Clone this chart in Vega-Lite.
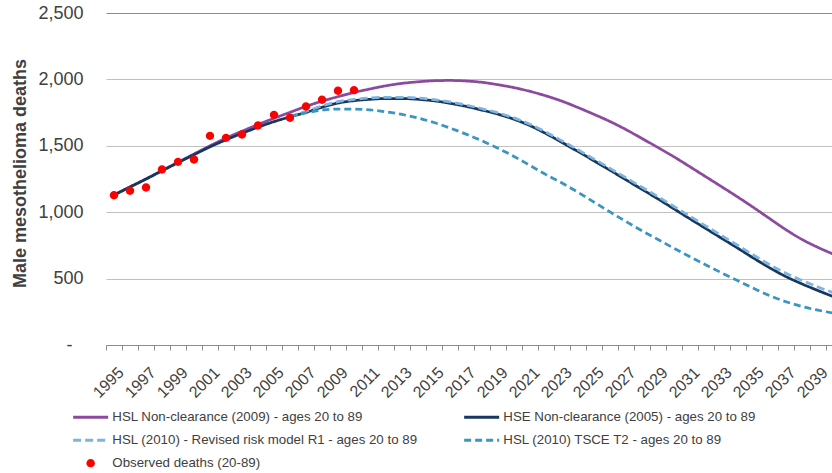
{
 "$schema": "https://vega.github.io/schema/vega-lite/v6.json",
 "width": 726,
 "height": 332,
 "autosize": {"type": "none"},
 "padding": {"left": 106, "top": 13, "right": 0, "bottom": 128},
 "config": {"view": {"stroke": null}, "font": "Liberation Sans"},
 "data": {"values": [
  {"series":"HSL Non-clearance (2009) - ages 20 to 89","year":1995,"deaths":1130},
  {"series":"HSL Non-clearance (2009) - ages 20 to 89","year":1996,"deaths":1190},
  {"series":"HSL Non-clearance (2009) - ages 20 to 89","year":1997,"deaths":1250},
  {"series":"HSL Non-clearance (2009) - ages 20 to 89","year":1998,"deaths":1313},
  {"series":"HSL Non-clearance (2009) - ages 20 to 89","year":1999,"deaths":1376},
  {"series":"HSL Non-clearance (2009) - ages 20 to 89","year":2000,"deaths":1438},
  {"series":"HSL Non-clearance (2009) - ages 20 to 89","year":2001,"deaths":1500},
  {"series":"HSL Non-clearance (2009) - ages 20 to 89","year":2002,"deaths":1558},
  {"series":"HSL Non-clearance (2009) - ages 20 to 89","year":2003,"deaths":1610},
  {"series":"HSL Non-clearance (2009) - ages 20 to 89","year":2004,"deaths":1660},
  {"series":"HSL Non-clearance (2009) - ages 20 to 89","year":2005,"deaths":1707},
  {"series":"HSL Non-clearance (2009) - ages 20 to 89","year":2006,"deaths":1752},
  {"series":"HSL Non-clearance (2009) - ages 20 to 89","year":2007,"deaths":1797},
  {"series":"HSL Non-clearance (2009) - ages 20 to 89","year":2008,"deaths":1836},
  {"series":"HSL Non-clearance (2009) - ages 20 to 89","year":2009,"deaths":1870},
  {"series":"HSL Non-clearance (2009) - ages 20 to 89","year":2010,"deaths":1902},
  {"series":"HSL Non-clearance (2009) - ages 20 to 89","year":2011,"deaths":1928},
  {"series":"HSL Non-clearance (2009) - ages 20 to 89","year":2012,"deaths":1952},
  {"series":"HSL Non-clearance (2009) - ages 20 to 89","year":2013,"deaths":1970},
  {"series":"HSL Non-clearance (2009) - ages 20 to 89","year":2014,"deaths":1982},
  {"series":"HSL Non-clearance (2009) - ages 20 to 89","year":2015,"deaths":1990},
  {"series":"HSL Non-clearance (2009) - ages 20 to 89","year":2016,"deaths":1992},
  {"series":"HSL Non-clearance (2009) - ages 20 to 89","year":2017,"deaths":1988},
  {"series":"HSL Non-clearance (2009) - ages 20 to 89","year":2018,"deaths":1978},
  {"series":"HSL Non-clearance (2009) - ages 20 to 89","year":2019,"deaths":1960},
  {"series":"HSL Non-clearance (2009) - ages 20 to 89","year":2020,"deaths":1938},
  {"series":"HSL Non-clearance (2009) - ages 20 to 89","year":2021,"deaths":1910},
  {"series":"HSL Non-clearance (2009) - ages 20 to 89","year":2022,"deaths":1876},
  {"series":"HSL Non-clearance (2009) - ages 20 to 89","year":2023,"deaths":1836},
  {"series":"HSL Non-clearance (2009) - ages 20 to 89","year":2024,"deaths":1788},
  {"series":"HSL Non-clearance (2009) - ages 20 to 89","year":2025,"deaths":1737},
  {"series":"HSL Non-clearance (2009) - ages 20 to 89","year":2026,"deaths":1683},
  {"series":"HSL Non-clearance (2009) - ages 20 to 89","year":2027,"deaths":1622},
  {"series":"HSL Non-clearance (2009) - ages 20 to 89","year":2028,"deaths":1555},
  {"series":"HSL Non-clearance (2009) - ages 20 to 89","year":2029,"deaths":1487},
  {"series":"HSL Non-clearance (2009) - ages 20 to 89","year":2030,"deaths":1417},
  {"series":"HSL Non-clearance (2009) - ages 20 to 89","year":2031,"deaths":1342},
  {"series":"HSL Non-clearance (2009) - ages 20 to 89","year":2032,"deaths":1266},
  {"series":"HSL Non-clearance (2009) - ages 20 to 89","year":2033,"deaths":1190},
  {"series":"HSL Non-clearance (2009) - ages 20 to 89","year":2034,"deaths":1113},
  {"series":"HSL Non-clearance (2009) - ages 20 to 89","year":2035,"deaths":1033},
  {"series":"HSL Non-clearance (2009) - ages 20 to 89","year":2036,"deaths":950},
  {"series":"HSL Non-clearance (2009) - ages 20 to 89","year":2037,"deaths":868},
  {"series":"HSL Non-clearance (2009) - ages 20 to 89","year":2038,"deaths":795},
  {"series":"HSL Non-clearance (2009) - ages 20 to 89","year":2039,"deaths":735},
  {"series":"HSL Non-clearance (2009) - ages 20 to 89","year":2040,"deaths":682},
  {"series":"HSE Non-clearance (2005) - ages 20 to 89","year":1995,"deaths":1130},
  {"series":"HSE Non-clearance (2005) - ages 20 to 89","year":1996,"deaths":1190},
  {"series":"HSE Non-clearance (2005) - ages 20 to 89","year":1997,"deaths":1250},
  {"series":"HSE Non-clearance (2005) - ages 20 to 89","year":1998,"deaths":1312},
  {"series":"HSE Non-clearance (2005) - ages 20 to 89","year":1999,"deaths":1373},
  {"series":"HSE Non-clearance (2005) - ages 20 to 89","year":2000,"deaths":1433},
  {"series":"HSE Non-clearance (2005) - ages 20 to 89","year":2001,"deaths":1492},
  {"series":"HSE Non-clearance (2005) - ages 20 to 89","year":2002,"deaths":1545},
  {"series":"HSE Non-clearance (2005) - ages 20 to 89","year":2003,"deaths":1594},
  {"series":"HSE Non-clearance (2005) - ages 20 to 89","year":2004,"deaths":1640},
  {"series":"HSE Non-clearance (2005) - ages 20 to 89","year":2005,"deaths":1682},
  {"series":"HSE Non-clearance (2005) - ages 20 to 89","year":2006,"deaths":1718},
  {"series":"HSE Non-clearance (2005) - ages 20 to 89","year":2007,"deaths":1752},
  {"series":"HSE Non-clearance (2005) - ages 20 to 89","year":2008,"deaths":1790},
  {"series":"HSE Non-clearance (2005) - ages 20 to 89","year":2009,"deaths":1822},
  {"series":"HSE Non-clearance (2005) - ages 20 to 89","year":2010,"deaths":1840},
  {"series":"HSE Non-clearance (2005) - ages 20 to 89","year":2011,"deaths":1850},
  {"series":"HSE Non-clearance (2005) - ages 20 to 89","year":2012,"deaths":1856},
  {"series":"HSE Non-clearance (2005) - ages 20 to 89","year":2013,"deaths":1856},
  {"series":"HSE Non-clearance (2005) - ages 20 to 89","year":2014,"deaths":1850},
  {"series":"HSE Non-clearance (2005) - ages 20 to 89","year":2015,"deaths":1839},
  {"series":"HSE Non-clearance (2005) - ages 20 to 89","year":2016,"deaths":1820},
  {"series":"HSE Non-clearance (2005) - ages 20 to 89","year":2017,"deaths":1797},
  {"series":"HSE Non-clearance (2005) - ages 20 to 89","year":2018,"deaths":1769},
  {"series":"HSE Non-clearance (2005) - ages 20 to 89","year":2019,"deaths":1738},
  {"series":"HSE Non-clearance (2005) - ages 20 to 89","year":2020,"deaths":1700},
  {"series":"HSE Non-clearance (2005) - ages 20 to 89","year":2021,"deaths":1652},
  {"series":"HSE Non-clearance (2005) - ages 20 to 89","year":2022,"deaths":1592},
  {"series":"HSE Non-clearance (2005) - ages 20 to 89","year":2023,"deaths":1525},
  {"series":"HSE Non-clearance (2005) - ages 20 to 89","year":2024,"deaths":1457},
  {"series":"HSE Non-clearance (2005) - ages 20 to 89","year":2025,"deaths":1387},
  {"series":"HSE Non-clearance (2005) - ages 20 to 89","year":2026,"deaths":1316},
  {"series":"HSE Non-clearance (2005) - ages 20 to 89","year":2027,"deaths":1244},
  {"series":"HSE Non-clearance (2005) - ages 20 to 89","year":2028,"deaths":1172},
  {"series":"HSE Non-clearance (2005) - ages 20 to 89","year":2029,"deaths":1100},
  {"series":"HSE Non-clearance (2005) - ages 20 to 89","year":2030,"deaths":1025},
  {"series":"HSE Non-clearance (2005) - ages 20 to 89","year":2031,"deaths":950},
  {"series":"HSE Non-clearance (2005) - ages 20 to 89","year":2032,"deaths":876},
  {"series":"HSE Non-clearance (2005) - ages 20 to 89","year":2033,"deaths":802},
  {"series":"HSE Non-clearance (2005) - ages 20 to 89","year":2034,"deaths":728},
  {"series":"HSE Non-clearance (2005) - ages 20 to 89","year":2035,"deaths":652},
  {"series":"HSE Non-clearance (2005) - ages 20 to 89","year":2036,"deaths":580},
  {"series":"HSE Non-clearance (2005) - ages 20 to 89","year":2037,"deaths":515},
  {"series":"HSE Non-clearance (2005) - ages 20 to 89","year":2038,"deaths":460},
  {"series":"HSE Non-clearance (2005) - ages 20 to 89","year":2039,"deaths":410},
  {"series":"HSE Non-clearance (2005) - ages 20 to 89","year":2040,"deaths":362},
  {"series":"HSL (2010) - Revised risk model R1 - ages 20 to 89","year":2006,"deaths":1720},
  {"series":"HSL (2010) - Revised risk model R1 - ages 20 to 89","year":2007,"deaths":1760},
  {"series":"HSL (2010) - Revised risk model R1 - ages 20 to 89","year":2008,"deaths":1800},
  {"series":"HSL (2010) - Revised risk model R1 - ages 20 to 89","year":2009,"deaths":1832},
  {"series":"HSL (2010) - Revised risk model R1 - ages 20 to 89","year":2010,"deaths":1850},
  {"series":"HSL (2010) - Revised risk model R1 - ages 20 to 89","year":2011,"deaths":1860},
  {"series":"HSL (2010) - Revised risk model R1 - ages 20 to 89","year":2012,"deaths":1865},
  {"series":"HSL (2010) - Revised risk model R1 - ages 20 to 89","year":2013,"deaths":1865},
  {"series":"HSL (2010) - Revised risk model R1 - ages 20 to 89","year":2014,"deaths":1860},
  {"series":"HSL (2010) - Revised risk model R1 - ages 20 to 89","year":2015,"deaths":1848},
  {"series":"HSL (2010) - Revised risk model R1 - ages 20 to 89","year":2016,"deaths":1830},
  {"series":"HSL (2010) - Revised risk model R1 - ages 20 to 89","year":2017,"deaths":1807},
  {"series":"HSL (2010) - Revised risk model R1 - ages 20 to 89","year":2018,"deaths":1779},
  {"series":"HSL (2010) - Revised risk model R1 - ages 20 to 89","year":2019,"deaths":1748},
  {"series":"HSL (2010) - Revised risk model R1 - ages 20 to 89","year":2020,"deaths":1710},
  {"series":"HSL (2010) - Revised risk model R1 - ages 20 to 89","year":2021,"deaths":1662},
  {"series":"HSL (2010) - Revised risk model R1 - ages 20 to 89","year":2022,"deaths":1603},
  {"series":"HSL (2010) - Revised risk model R1 - ages 20 to 89","year":2023,"deaths":1537},
  {"series":"HSL (2010) - Revised risk model R1 - ages 20 to 89","year":2024,"deaths":1470},
  {"series":"HSL (2010) - Revised risk model R1 - ages 20 to 89","year":2025,"deaths":1400},
  {"series":"HSL (2010) - Revised risk model R1 - ages 20 to 89","year":2026,"deaths":1330},
  {"series":"HSL (2010) - Revised risk model R1 - ages 20 to 89","year":2027,"deaths":1259},
  {"series":"HSL (2010) - Revised risk model R1 - ages 20 to 89","year":2028,"deaths":1188},
  {"series":"HSL (2010) - Revised risk model R1 - ages 20 to 89","year":2029,"deaths":1117},
  {"series":"HSL (2010) - Revised risk model R1 - ages 20 to 89","year":2030,"deaths":1043},
  {"series":"HSL (2010) - Revised risk model R1 - ages 20 to 89","year":2031,"deaths":969},
  {"series":"HSL (2010) - Revised risk model R1 - ages 20 to 89","year":2032,"deaths":895},
  {"series":"HSL (2010) - Revised risk model R1 - ages 20 to 89","year":2033,"deaths":822},
  {"series":"HSL (2010) - Revised risk model R1 - ages 20 to 89","year":2034,"deaths":749},
  {"series":"HSL (2010) - Revised risk model R1 - ages 20 to 89","year":2035,"deaths":675},
  {"series":"HSL (2010) - Revised risk model R1 - ages 20 to 89","year":2036,"deaths":604},
  {"series":"HSL (2010) - Revised risk model R1 - ages 20 to 89","year":2037,"deaths":540},
  {"series":"HSL (2010) - Revised risk model R1 - ages 20 to 89","year":2038,"deaths":486},
  {"series":"HSL (2010) - Revised risk model R1 - ages 20 to 89","year":2039,"deaths":437},
  {"series":"HSL (2010) - Revised risk model R1 - ages 20 to 89","year":2040,"deaths":392},
  {"series":"HSL (2010) TSCE T2 - ages 20 to 89","year":2006,"deaths":1720},
  {"series":"HSL (2010) TSCE T2 - ages 20 to 89","year":2007,"deaths":1748},
  {"series":"HSL (2010) TSCE T2 - ages 20 to 89","year":2008,"deaths":1768},
  {"series":"HSL (2010) TSCE T2 - ages 20 to 89","year":2009,"deaths":1777},
  {"series":"HSL (2010) TSCE T2 - ages 20 to 89","year":2010,"deaths":1777},
  {"series":"HSL (2010) TSCE T2 - ages 20 to 89","year":2011,"deaths":1770},
  {"series":"HSL (2010) TSCE T2 - ages 20 to 89","year":2012,"deaths":1756},
  {"series":"HSL (2010) TSCE T2 - ages 20 to 89","year":2013,"deaths":1736},
  {"series":"HSL (2010) TSCE T2 - ages 20 to 89","year":2014,"deaths":1709},
  {"series":"HSL (2010) TSCE T2 - ages 20 to 89","year":2015,"deaths":1675},
  {"series":"HSL (2010) TSCE T2 - ages 20 to 89","year":2016,"deaths":1634},
  {"series":"HSL (2010) TSCE T2 - ages 20 to 89","year":2017,"deaths":1588},
  {"series":"HSL (2010) TSCE T2 - ages 20 to 89","year":2018,"deaths":1538},
  {"series":"HSL (2010) TSCE T2 - ages 20 to 89","year":2019,"deaths":1481},
  {"series":"HSL (2010) TSCE T2 - ages 20 to 89","year":2020,"deaths":1420},
  {"series":"HSL (2010) TSCE T2 - ages 20 to 89","year":2021,"deaths":1352},
  {"series":"HSL (2010) TSCE T2 - ages 20 to 89","year":2022,"deaths":1283},
  {"series":"HSL (2010) TSCE T2 - ages 20 to 89","year":2023,"deaths":1220},
  {"series":"HSL (2010) TSCE T2 - ages 20 to 89","year":2024,"deaths":1150},
  {"series":"HSL (2010) TSCE T2 - ages 20 to 89","year":2025,"deaths":1076},
  {"series":"HSL (2010) TSCE T2 - ages 20 to 89","year":2026,"deaths":1002},
  {"series":"HSL (2010) TSCE T2 - ages 20 to 89","year":2027,"deaths":930},
  {"series":"HSL (2010) TSCE T2 - ages 20 to 89","year":2028,"deaths":860},
  {"series":"HSL (2010) TSCE T2 - ages 20 to 89","year":2029,"deaths":795},
  {"series":"HSL (2010) TSCE T2 - ages 20 to 89","year":2030,"deaths":728},
  {"series":"HSL (2010) TSCE T2 - ages 20 to 89","year":2031,"deaths":665},
  {"series":"HSL (2010) TSCE T2 - ages 20 to 89","year":2032,"deaths":602},
  {"series":"HSL (2010) TSCE T2 - ages 20 to 89","year":2033,"deaths":542},
  {"series":"HSL (2010) TSCE T2 - ages 20 to 89","year":2034,"deaths":484},
  {"series":"HSL (2010) TSCE T2 - ages 20 to 89","year":2035,"deaths":425},
  {"series":"HSL (2010) TSCE T2 - ages 20 to 89","year":2036,"deaths":370},
  {"series":"HSL (2010) TSCE T2 - ages 20 to 89","year":2037,"deaths":326},
  {"series":"HSL (2010) TSCE T2 - ages 20 to 89","year":2038,"deaths":290},
  {"series":"HSL (2010) TSCE T2 - ages 20 to 89","year":2039,"deaths":262},
  {"series":"HSL (2010) TSCE T2 - ages 20 to 89","year":2040,"deaths":240},
  {"series":"Observed deaths (20-89)","year":1995,"deaths":1128},
  {"series":"Observed deaths (20-89)","year":1996,"deaths":1161},
  {"series":"Observed deaths (20-89)","year":1997,"deaths":1186},
  {"series":"Observed deaths (20-89)","year":1998,"deaths":1321},
  {"series":"Observed deaths (20-89)","year":1999,"deaths":1379},
  {"series":"Observed deaths (20-89)","year":2000,"deaths":1397},
  {"series":"Observed deaths (20-89)","year":2001,"deaths":1575},
  {"series":"Observed deaths (20-89)","year":2002,"deaths":1560},
  {"series":"Observed deaths (20-89)","year":2003,"deaths":1585},
  {"series":"Observed deaths (20-89)","year":2004,"deaths":1653},
  {"series":"Observed deaths (20-89)","year":2005,"deaths":1733},
  {"series":"Observed deaths (20-89)","year":2006,"deaths":1711},
  {"series":"Observed deaths (20-89)","year":2007,"deaths":1796},
  {"series":"Observed deaths (20-89)","year":2008,"deaths":1847},
  {"series":"Observed deaths (20-89)","year":2009,"deaths":1914},
  {"series":"Observed deaths (20-89)","year":2010,"deaths":1919}
 ]},
 "encoding": {
  "x": {
   "field": "year", "type": "quantitative",
   "scale": {"domain": [1994.5, 2039.875], "nice": false, "zero": false},
   "axis": {
    "title": null,
    "values": [1994.5,1995.5,1996.5,1997.5,1998.5,1999.5,2000.5,2001.5,2002.5,2003.5,2004.5,2005.5,2006.5,2007.5,2008.5,2009.5,2010.5,2011.5,2012.5,2013.5,2014.5,2015.5,2016.5,2017.5,2018.5,2019.5,2020.5,2021.5,2022.5,2023.5,2024.5,2025.5,2026.5,2027.5,2028.5,2029.5,2030.5,2031.5,2032.5,2033.5,2034.5,2035.5,2036.5,2037.5,2038.5,2039.5],
    "labelExpr": "(datum.value + 0.5) % 2 == 1 ? '' + (datum.value + 0.5) : ''",
    "labelOffset": 9,
    "labelAngle": -45,
    "labelFontSize": 16,
    "labelColor": "#404040",
    "labelOverlap": false,
    "labelFlush": false,
    "labelBound": false,
    "labelPadding": 14,
    "tickSize": 5,
    "tickColor": "#8c8c8c",
    "domainColor": "#8c8c8c",
    "grid": false
   }
  },
  "y": {
   "field": "deaths", "type": "quantitative",
   "scale": {"domain": [0, 2500], "nice": false},
   "axis": {
    "title": "Male mesothelioma deaths",
    "values": [0, 500, 1000, 1500, 2000, 2500],
    "labelExpr": "datum.value == 0 ? '-' : format(datum.value, ',')",
    "labelFontSize": 18,
    "labelColor": "#404040",
    "labelPadding": {"condition": {"test": "datum.value === 0", "value": 34}, "value": 23},
    "ticks": false,
    "domain": false,
    "grid": true,
    "gridColor": {"condition": {"test": "datum.value === 2500", "value": "#8c8c8c"}, "value": "#c0c0c0"},
    "titleFontSize": 18,
    "titleFontWeight": "bold",
    "titleColor": "#404040",
    "titleAngle": -90,
    "titleX": -81,
    "titleY": 160,
    "titleBaseline": "alphabetic"
   }
  }
 },
 "layer": [
  {
   "transform": [{"filter": "datum.series !== 'Observed deaths (20-89)'"}],
   "mark": {"type": "line", "strokeWidth": 2.75, "interpolate": "monotone", "clip": true},
   "encoding": {
    "color": {
     "field": "series", "type": "nominal",
     "scale": {
      "domain": ["HSL Non-clearance (2009) - ages 20 to 89","HSL (2010) - Revised risk model R1 - ages 20 to 89","Observed deaths (20-89)","HSE Non-clearance (2005) - ages 20 to 89","HSL (2010) TSCE T2 - ages 20 to 89"],
      "range": ["#8B4A9E","#7DB4E0","#FF0000","#17375E","#3A95C0"]
     },
     "legend": {
      "title": null, "orient": "none", "legendX": -22, "legendY": 397.5, "columns": 2,
      "columnPadding": 40, "rowPadding": 9, "padding": 0,
      "symbolSize": 1225, "symbolStrokeWidth": 3,
      "labelFontSize": 13.3, "labelColor": "#404040", "labelOffset": 15, "labelLimit": 400,
      "encode": {"symbols": {"update": {
        "fill": {"scale": "color", "field": "value"},
        "stroke": {"scale": "color", "field": "value"},
        "strokeWidth": {"signal": "datum.value === 'Observed deaths (20-89)' ? 0 : 3"}
      }}}
     }
    },
    "strokeDash": {
     "field": "series", "type": "nominal",
     "scale": {
      "domain": ["HSL Non-clearance (2009) - ages 20 to 89","HSL (2010) - Revised risk model R1 - ages 20 to 89","Observed deaths (20-89)","HSE Non-clearance (2005) - ages 20 to 89","HSL (2010) TSCE T2 - ages 20 to 89"],
      "range": [[1,0],[8,4],[1,0],[1,0],[7,4]]
     }
    }
   }
  },
  {
   "transform": [{"filter": "datum.series === 'Observed deaths (20-89)'"}],
   "mark": {"type": "point", "filled": true, "opacity": 1, "size": 1225, "strokeWidth": 0, "clip": true},
   "encoding": {
    "color": {"field": "series", "type": "nominal"},
    "shape": {
     "field": "series", "type": "nominal",
     "scale": {
      "domain": ["HSL Non-clearance (2009) - ages 20 to 89","HSL (2010) - Revised risk model R1 - ages 20 to 89","Observed deaths (20-89)","HSE Non-clearance (2005) - ages 20 to 89","HSL (2010) TSCE T2 - ages 20 to 89"],
      "range": ["stroke","stroke","M-0.24,0A0.24,0.24,0,1,0,0.24,0A0.24,0.24,0,1,0,-0.24,0Z","stroke","stroke"]
     }
    }
   }
  }
 ]
}
